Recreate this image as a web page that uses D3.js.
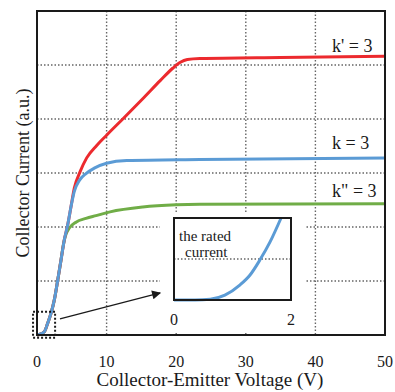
<!DOCTYPE html>
<html><head><meta charset="utf-8">
<script src="https://cdn.jsdelivr.net/npm/d3@7"></script>
<style>body{margin:0;background:#fff}svg{display:block}
svg text{font-family:"Times New Roman",Times,"Liberation Serif","DejaVu Serif","Noto Serif",serif}</style>
</head><body><svg id="c" width="395" height="392"></svg>
<script>
// ---- data ----
const xTicks = [0, 10, 20, 30, 40, 50];
const yGrid = [1, 2, 3, 4, 5];
const redX  = [0, 0.33, 1.05, 1.54, 2.01, 2.49, 2.97, 3.45, 3.92, 4.41, 4.89, 5.36, 6.18, 7.14, 8.58, 10, 12.4, 15.3, 17.7, 19.5, 20.6, 21.6, 23.4, 35, 50];
const redY  = [0, 0.01, 0.06, 0.22, 0.40, 0.65, 1.01, 1.39, 1.76, 2.04, 2.38, 2.72, 3.02, 3.28, 3.51, 3.70, 4.01, 4.39, 4.71, 4.94, 5.05, 5.10, 5.12, 5.14, 5.16];
const blueX = [0, 0.33, 1.05, 1.54, 2.01, 2.49, 2.97, 3.45, 3.92, 4.41, 4.89, 5.36, 6.08, 7.04, 8.23, 10, 12.9, 23.4, 50];
const blueY = [0, 0.01, 0.06, 0.22, 0.40, 0.65, 1.01, 1.39, 1.76, 2.04, 2.38, 2.66, 2.86, 2.99, 3.09, 3.18, 3.23, 3.25, 3.28];
const greenX = [0, 0.33, 1.05, 1.54, 2.01, 2.49, 2.97, 3.45, 3.8, 4.1, 4.64, 5.6, 7.04, 8.48, 10.5, 15.2, 20, 23.4, 50];
const greenY = [0, 0.01, 0.06, 0.22, 0.40, 0.65, 1.01, 1.39, 1.68, 1.84, 1.98, 2.09, 2.16, 2.21, 2.28, 2.37, 2.41, 2.42, 2.43];
const labels = ["k' = 3", "k = 3", 'k" = 3'];
const labelY = [5.24, 3.44, 2.56];
const insetX = [0, 0.36, 0.62, 0.87, 1.13, 1.3, 1.47, 1.64, 1.83];
const insetY = [0, 0, 0.02, 0.12, 0.37, 0.61, 0.98, 1.41, 2.0];
const insetTicks = [0, 2];
const ratedCurrent = 1;
const zoomBox = [[-0.57, -0.05], [2.6, 0.43]];
const arrowPts = [[3.3, 0.3], [17.7, 0.78]];

// ---- layout ----
const svg = d3.select("#c");
const L = 37, R = 385, T = 11, B = 335;
const x = d3.scaleLinear().domain([0, 50]).range([L, R]);
const y = d3.scaleLinear().domain([0, 6]).range([B, T]);
const gridStyle = s => s.attr("stroke", "#666").attr("stroke-width", 1.4).attr("stroke-dasharray", "1.5,2");
const ink = "#1a1a1a";

// grid
svg.append("g").selectAll("line").data(yGrid).join("line")
  .attr("x1", L).attr("x2", R).attr("y1", d => y(d)).attr("y2", d => y(d)).call(gridStyle);
svg.append("g").selectAll("line").data(xTicks.slice(1, -1)).join("line")
  .attr("x1", d => x(d)).attr("x2", d => x(d)).attr("y1", T).attr("y2", B).call(gridStyle);

// curves
const line = d3.line().x(d => x(d[0])).y(d => y(d[1])).curve(d3.curveMonotoneX);
const series = [
  {xs: greenX, ys: greenY, c: "#70ad47"},
  {xs: redX, ys: redY, c: "#ec2a2e"},
  {xs: blueX, ys: blueY, c: "#5b9bd5"}
];
series.forEach(s => {
  svg.append("path").datum(s.xs.map((v, i) => [v, s.ys[i]]))
    .attr("d", line).attr("fill", "none").attr("stroke", s.c).attr("stroke-width", 3)
    .attr("stroke-linejoin", "round");
});

// curve labels
svg.append("g").selectAll("text").data(labels).join("text")
  .attr("x", x(42.4)).attr("y", (d, i) => y(labelY[i]))
  .attr("font-size", 18).attr("fill", ink).text(d => d);

// white mask for inset
const ix = d3.scaleLinear().domain([0, 2]).range([174, 291]);
const iy = d3.scaleLinear().domain([0, 2]).range([300, 218]);
svg.append("rect").attr("x", ix(0) - 14).attr("y", iy(2) - 5).attr("width", ix(2) - ix(0) + 28).attr("height", B - 3 - (iy(2) - 5)).attr("fill", "#fff");
// inset
svg.append("line").attr("x1", ix(0)).attr("x2", ix(2)).attr("y1", iy(ratedCurrent)).attr("y2", iy(ratedCurrent)).call(gridStyle);
svg.append("path").datum(insetX.map((v, i) => [v, insetY[i]]))
  .attr("d", d3.line().x(d => ix(d[0])).y(d => iy(d[1])).curve(d3.curveMonotoneX))
  .attr("fill", "none").attr("stroke", "#5b9bd5").attr("stroke-width", 3);
svg.append("rect").attr("x", ix(0)).attr("y", iy(2)).attr("width", ix(2) - ix(0)).attr("height", iy(0) - iy(2))
  .attr("fill", "none").attr("stroke", ink).attr("stroke-width", 2);
svg.append("text").attr("x", ix(0) + 5).attr("y", 241).attr("font-size", 15).attr("fill", ink).text("the rated");
svg.append("text").attr("x", ix(0) + 11).attr("y", 257).attr("font-size", 15).attr("fill", ink).text("current");
svg.append("g").selectAll("text").data(insetTicks).join("text")
  .attr("x", d => ix(d)).attr("y", 325).attr("text-anchor", "middle").attr("font-size", 16).attr("fill", ink).text(d => d);

// frame
svg.append("rect").attr("x", L).attr("y", T).attr("width", R - L).attr("height", B - T)
  .attr("fill", "none").attr("stroke", ink).attr("stroke-width", 2);

// zoom box & arrow
svg.append("rect").attr("x", x(zoomBox[0][0])).attr("y", y(zoomBox[1][1]))
  .attr("width", x(zoomBox[1][0]) - x(zoomBox[0][0])).attr("height", y(zoomBox[0][1]) - y(zoomBox[1][1]))
  .attr("fill", "none").attr("stroke", ink).attr("stroke-width", 2).attr("stroke-dasharray", "2,2");
svg.append("defs").append("marker").attr("id", "ah").attr("viewBox", "0 0 10 10")
  .attr("refX", 9).attr("refY", 5).attr("markerWidth", 11).attr("markerHeight", 9).attr("markerUnits", "userSpaceOnUse")
  .attr("orient", "auto").append("path").attr("d", "M0,0L10,5L0,10Z").attr("fill", ink);
svg.append("line").attr("x1", x(arrowPts[0][0])).attr("y1", y(arrowPts[0][1]))
  .attr("x2", x(arrowPts[1][0])).attr("y2", y(arrowPts[1][1]))
  .attr("stroke", ink).attr("stroke-width", 1.2).attr("marker-end", "url(#ah)");

// x tick labels
svg.append("g").selectAll("text").data(xTicks).join("text")
  .attr("x", d => x(d)).attr("y", 367).attr("text-anchor", "middle").attr("font-size", 16).attr("fill", ink).text(d => d);

// axis titles
svg.append("text").attr("x", 210).attr("y", 386).attr("text-anchor", "middle").attr("font-size", 19).attr("fill", ink)
  .text("Collector-Emitter Voltage (V)");
svg.append("text").attr("transform", "translate(29,173) rotate(-90)").attr("text-anchor", "middle")
  .attr("font-size", 18).attr("fill", ink).text("Collector Current (a.u.)");
</script></body></html>
